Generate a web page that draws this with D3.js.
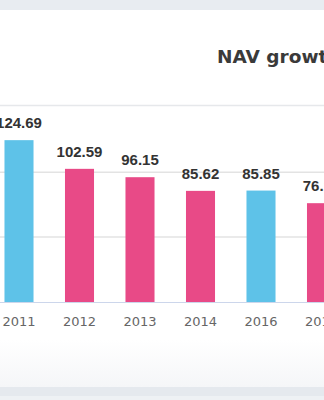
<!DOCTYPE html>
<html>
<head>
<meta charset="utf-8">
<script src="https://cdn.jsdelivr.net/npm/d3@7"></script>
<style>
  html, body { margin: 0; padding: 0; background: #eef1f4; overflow: hidden; }
  svg { display: block; }
</style>
</head>
<body>
<script>
const width = 324;
const height = 400;

// NAV per year
const years = ["2011", "2012", "2013", "2014", "2016", "2017"];
const navValues = [124.69, 102.59, 96.15, 85.62, 85.85, 76.13];
const barColors = ["#5ec2e8", "#e84a87", "#e84a87", "#e84a87", "#5ec2e8", "#e84a87"];
const yTicks = [0, 50, 100, 150];

const svg = d3.select("body")
  .append("svg")
  .attr("width", width)
  .attr("height", height);

const defs = svg.append("defs");
const grad = defs.append("linearGradient")
  .attr("id", "footFade")
  .attr("x1", 0).attr("x2", 0).attr("y1", 0).attr("y2", 1);
grad.append("stop").attr("offset", "0%").attr("stop-color", "#ffffff");
grad.append("stop").attr("offset", "100%").attr("stop-color", "#f5f6f8");

// page background and card
svg.append("rect").attr("width", width).attr("height", height).attr("fill", "#eef1f4");
svg.append("rect").attr("x", 0).attr("y", 0).attr("width", width).attr("height", 10).attr("fill", "#e8ecf1");
svg.append("rect").attr("x", 0).attr("y", 10).attr("width", width).attr("height", 377).attr("fill", "#ffffff");
svg.append("rect").attr("x", 0).attr("y", 340).attr("width", width).attr("height", 47).attr("fill", "url(#footFade)");
svg.append("rect").attr("x", 0).attr("y", 387).attr("width", width).attr("height", 9).attr("fill", "#e5e9ee");

// header
svg.append("text")
  .attr("x", 217)
  .attr("y", 63)
  .attr("font-family", "'DejaVu Sans', sans-serif")
  .attr("font-size", "18.5px")
  .attr("font-weight", "bold")
  .attr("fill", "#3a3a3a")
  .text("NAV growth");

svg.append("line")
  .attr("x1", 0).attr("x2", width)
  .attr("y1", 105.5).attr("y2", 105.5)
  .attr("stroke", "#e6e8eb")
  .attr("stroke-width", 1.5);

const x = d3.scaleBand()
  .domain(years)
  .range([-11.25, 351.75])
  .paddingInner(0.52)
  .paddingOuter(0.26);

const y = d3.scaleLinear()
  .domain([0, 150])
  .range([302, 107.3]);

// gridlines (skip the baseline and the top one hidden by the header rule)
svg.append("g")
  .selectAll("line")
  .data(yTicks.filter(t => t > 0 && t < 150))
  .join("line")
  .attr("x1", 0).attr("x2", width)
  .attr("y1", d => y(d)).attr("y2", d => y(d))
  .attr("stroke", "#e3e3e3")
  .attr("stroke-width", 1.5);

svg.selectAll("rect.bar")
  .data(navValues)
  .join("rect")
  .attr("class", "bar")
  .attr("x", (d, i) => x(years[i]))
  .attr("width", x.bandwidth())
  .attr("y", d => y(d))
  .attr("height", d => y(0) - y(d))
  .attr("fill", (d, i) => barColors[i]);

// x axis
const xAxis = svg.append("g")
  .attr("transform", `translate(0,${y(0)})`)
  .call(d3.axisBottom(x).tickSize(0).tickPadding(15));
xAxis.select(".domain")
  .attr("d", `M0,0.5H${width}`)
  .attr("stroke", "#ccd6eb");
xAxis.selectAll("text")
  .attr("font-family", "'DejaVu Sans', sans-serif")
  .attr("font-size", "13px")
  .attr("fill", "#666");

// value labels
svg.selectAll("text.val")
  .data(navValues)
  .join("text")
  .attr("class", "val")
  .attr("x", (d, i) => x(years[i]) + x.bandwidth() / 2)
  .attr("y", d => y(d) - 12)
  .attr("text-anchor", "middle")
  .attr("font-family", "'Liberation Sans', Arial, sans-serif")
  .attr("font-size", "15px")
  .attr("font-weight", "bold")
  .attr("fill", "#333")
  .text(d => d.toFixed(2));
</script>
</body>
</html>
